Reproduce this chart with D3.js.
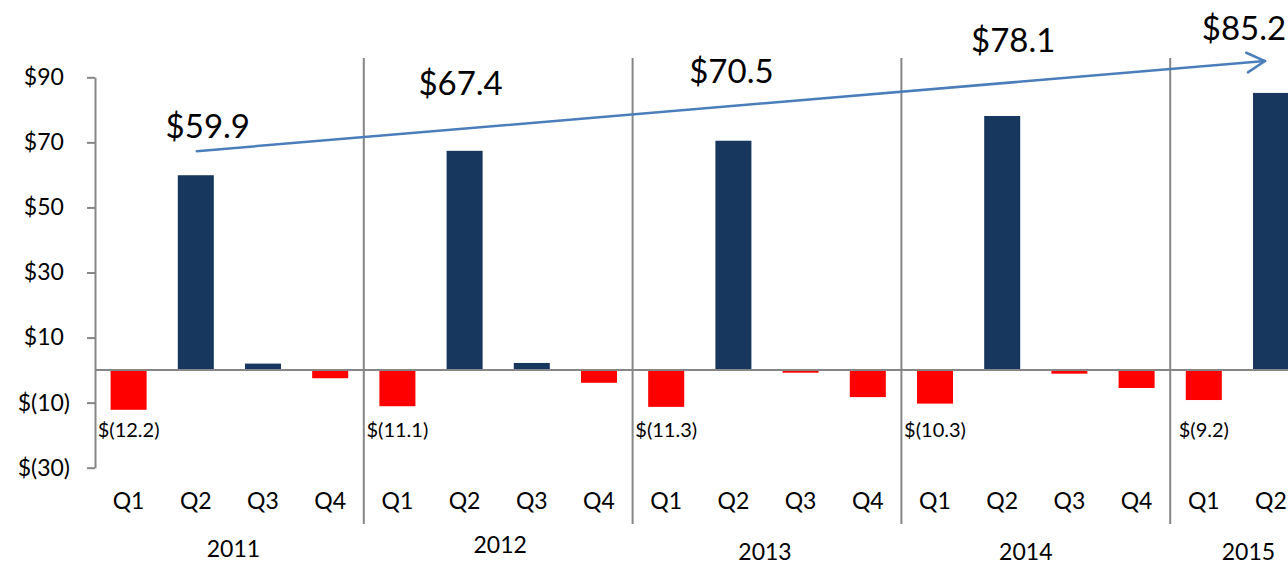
<!DOCTYPE html>
<html>
<head>
<meta charset="utf-8">
<script src="https://cdn.jsdelivr.net/npm/d3@7"></script>
<style>
  body { margin: 0; background: #fff; }
  svg { display: block; font-family: "Lato", "Open Sans", sans-serif; }
  .axis path, .axis line { stroke: #868686; stroke-width: 2; }
  .axis text { font-size: 23px; fill: #000; font-family: "Lato", "Open Sans", sans-serif; }
</style>
</head>
<body>
<svg width="1288" height="566"></svg>
<script>
// data ($ millions)
var years = ["2011", "2012", "2013", "2014", "2015"];
var quarters = ["Q1", "Q2", "Q3", "Q4"];
var v2011 = [-12.2, 59.9, 2.0, -2.5];
var v2012 = [-11.1, 67.4, 2.2, -3.9];
var v2013 = [-11.3, 70.5, -0.8, -8.3];
var v2014 = [-10.3, 78.1, -1.1, -5.5];
var v2015 = [-9.2, 85.2];
var yTicks = [90, 70, 50, 30, 10, -10, -30];

// trend arrow, in data units (start on 2011 Q2, end on 2015 Q2)
var trendFrom = 67.3, trendTo = 95;

// where the big Q2 labels sit, nudged off the bar top (px)
var bigLabelNudge = [[12, -37], [-4, -56], [-2, -58], [11, -64], [-27, -53]];
// year label nudges (px)
var yearNudge = [[4, 0], [2, -4], [-2, 3], [-10, 3], [11, 3]];

var svg = d3.select("svg");

var seriesByYear = [v2011, v2012, v2013, v2014, v2015];
var rows = [];
seriesByYear.forEach(function(vals, i) {
  vals.forEach(function(v, j) {
    rows.push({ id: years[i] + quarters[j], year: years[i], yi: i, q: quarters[j], qi: j, value: v });
  });
});

var step = 67.2;
var x = d3.scaleBand()
  .domain(rows.map(function(d) { return d.id; }))
  .range([95, 95 + step * rows.length])
  .paddingInner(0.464)
  .paddingOuter(0.232);
var y = d3.scaleLinear().domain([-30, 90]).range([467.7, 77.3]);

var bw = x.bandwidth();
var gap = (x.step() - bw) / 2;
function cx(d) { return x(d.id) + bw / 2; }

// y axis
var yAxis = svg.append("g")
  .attr("class", "axis")
  .attr("transform", "translate(95,0)")
  .call(d3.axisLeft(y).tickValues(yTicks).tickSize(8).tickSizeOuter(0).tickPadding(17)
    .tickFormat(function(v) { return v < 0 ? "$(" + Math.abs(v) + ")" : "$" + v; }));
// accounting style: positives keep room for the ")"
yAxis.selectAll(".tick text").each(function(v) {
  if (v >= 0) d3.select(this).append("tspan").attr("fill-opacity", 0).text(")");
});

// bars
svg.append("g").selectAll("rect")
  .data(rows)
  .enter().append("rect")
    .attr("x", function(d) { return x(d.id); })
    .attr("width", bw)
    .attr("y", function(d) { return y(Math.max(0, d.value)); })
    .attr("height", function(d) { return Math.abs(y(d.value) - y(0)); })
    .attr("fill", function(d) { return d.value < 0 ? "#ff0000" : "#17375e"; });

// zero line
svg.append("line")
  .attr("x1", 95).attr("x2", 1288)
  .attr("y1", y(0)).attr("y2", y(0))
  .attr("stroke", "#868686").attr("stroke-width", 2);

// year separators
var firsts = rows.filter(function(d) { return d.qi == 0 && d.yi > 0; });
svg.append("g").selectAll("line")
  .data(firsts)
  .enter().append("line")
    .attr("x1", function(d) { return x(d.id) - gap; })
    .attr("x2", function(d) { return x(d.id) - gap; })
    .attr("y1", 58).attr("y2", 524)
    .attr("stroke", "#868686").attr("stroke-width", 2);

// quarter labels
svg.append("g").selectAll("text")
  .data(rows)
  .enter().append("text")
    .attr("x", cx)
    .attr("y", 509)
    .attr("text-anchor", "middle")
    .attr("font-size", 23)
    .text(function(d) { return d.q; });

// year labels
svg.append("g").selectAll("text")
  .data(years)
  .enter().append("text")
    .attr("x", function(yr, i) {
      var r = rows.filter(function(d) { return d.year == yr; });
      var a = x(r[0].id) - gap, b = x(r[r.length - 1].id) + bw + gap;
      return (a + b) / 2 + yearNudge[i][0];
    })
    .attr("y", function(yr, i) { return 557 + yearNudge[i][1]; })
    .attr("text-anchor", "middle")
    .attr("font-size", 23)
    .text(function(d) { return d; });

// Q1 loss labels
svg.append("g").selectAll("text")
  .data(rows.filter(function(d) { return d.qi == 0; }))
  .enter().append("text")
    .attr("x", cx)
    .attr("y", y(0) + 67)
    .attr("text-anchor", "middle")
    .attr("font-size", 20)
    .text(function(d) { return "$(" + Math.abs(d.value).toFixed(1) + ")"; });

// Q2 big labels
svg.append("g").selectAll("text")
  .data(rows.filter(function(d) { return d.qi == 1; }))
  .enter().append("text")
    .attr("x", function(d) { return cx(d) + bigLabelNudge[d.yi][0]; })
    .attr("y", function(d) { return y(d.value) + bigLabelNudge[d.yi][1]; })
    .attr("text-anchor", "middle")
    .attr("font-size", 33)
    .text(function(d) { return "$" + d.value.toFixed(1); });

// trend arrow
var q2 = rows.filter(function(d) { return d.qi == 1; });
var x1 = cx(q2[0]) + 1, y1 = y(trendFrom);
var x2 = cx(q2[q2.length - 1]) - 6, y2 = y(trendTo);
var arrow = svg.append("g")
  .attr("stroke", "#4a7ebb").attr("stroke-width", 2.5).attr("fill", "none")
  .attr("stroke-linecap", "round");
arrow.append("line").attr("x1", x1).attr("y1", y1).attr("x2", x2).attr("y2", y2);
var ang = Math.atan2(y1 - y2, x1 - x2);
[-0.5, 0.5].forEach(function(s) {
  arrow.append("line")
    .attr("x1", x2).attr("y1", y2)
    .attr("x2", x2 + 20.5 * Math.cos(ang + s))
    .attr("y2", y2 + 20.5 * Math.sin(ang + s));
});
</script>
</body>
</html>
